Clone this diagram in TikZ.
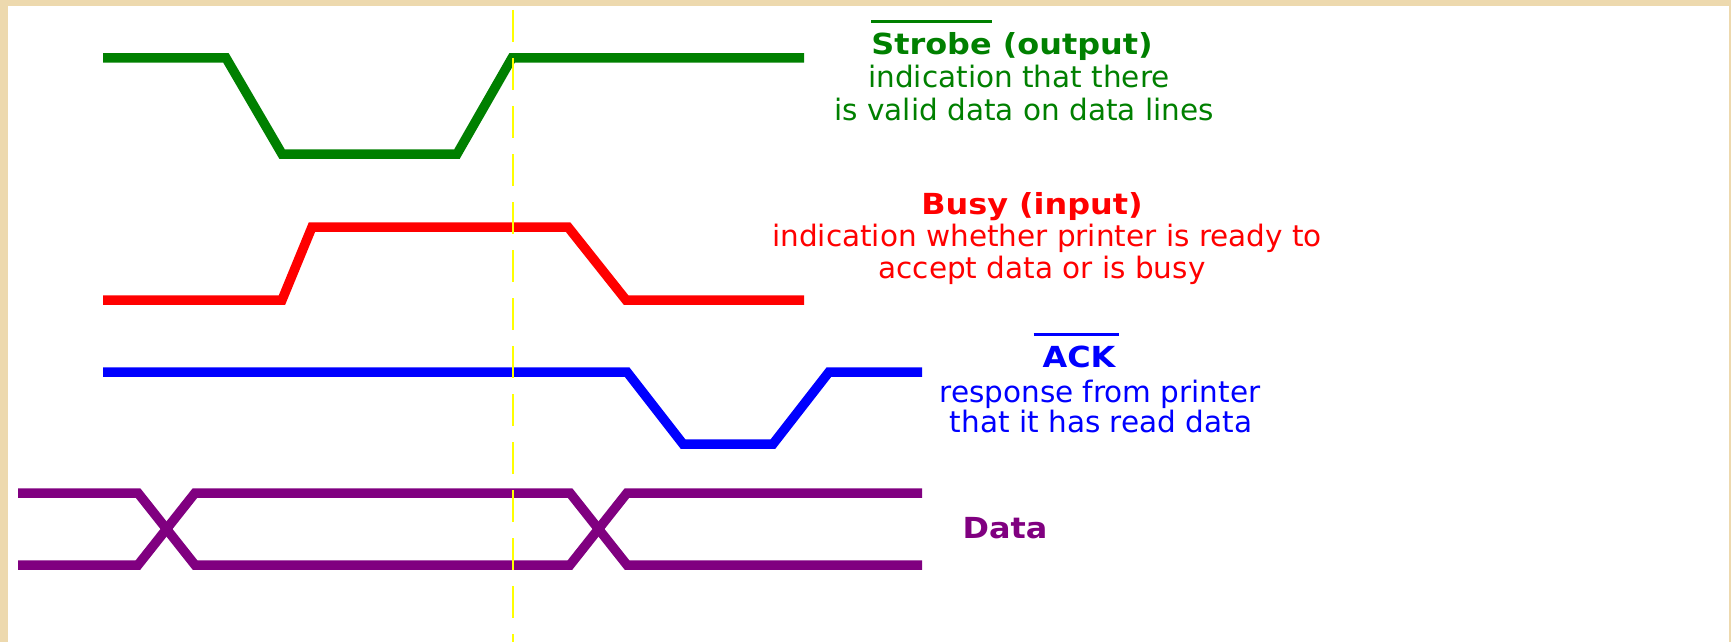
\documentclass[tikz,border=0pt]{standalone}
\usepackage{fontspec}
\newfontfamily\regfont{DejaVu Sans}
\newfontfamily\boldfont[FakeStretch=1.1]{DejaVu Sans}
\newcommand\ovbar[3][0pt]{\setbox0=\hbox{#3}\rlap{\kern-#1\raisebox{31.5pt}{\rule{\dimexpr\wd0+#1+#2\relax}{3pt}}}\box0\relax}
\definecolor{sgreen}{HTML}{008000}
\definecolor{sred}{HTML}{FF0000}
\definecolor{sblue}{HTML}{0000FF}
\definecolor{spurple}{HTML}{800080}
\definecolor{syellow}{HTML}{FFFF00}
\definecolor{beige}{HTML}{EDD9AE}
\begin{document}
\begin{tikzpicture}[x=1pt,y=-1pt,
  wave/.style={line width=9.5pt,line join=miter,line cap=butt},
  title/.style={anchor=base,inner sep=0pt,font=\boldfont\bfseries\fontsize{29}{32}\selectfont},
  desc/.style={anchor=base,inner sep=0pt,font=\regfont\fontsize{29.5}{32}\selectfont}]
\useasboundingbox (0,0) rectangle (1731,642);
\fill[beige] (0,0) rectangle (1731,642);
\fill[white] (8,6) rectangle (1729,642);
% signals
\draw[wave,sgreen] (103,58) -- (226,58) -- (282,154) -- (457,154) -- (512,58) -- (804,58);
\draw[wave,sred] (103,300) -- (282,300) -- (312,227) -- (568,227) -- (626,300) -- (804,300);
\draw[wave,sblue] (103,372) -- (627,372) -- (683,444) -- (773,444) -- (829,372) -- (922,372);
\draw[wave,spurple] (18,493) -- (138,493) -- (195,565) -- (570,565) -- (627,493) -- (922,493);
\draw[wave,spurple] (18,565) -- (138,565) -- (195,493) -- (570,493) -- (627,565) -- (922,565);
% yellow marker
\coordinate (ytop) at (513,10);
\coordinate (ybot) at (513,642);
\draw[syellow,line width=2.8pt,dash pattern=on 32pt off 16pt] (ytop) -- (ybot);
% labels
\node[title,text=sgreen] (strobeT) at (1012,55) {\ovbar{0pt}{Strobe} (output)};
\node[desc,text=sgreen] (strobe1) at (1019,88) {indication that there};
\node[desc,text=sgreen] (strobe2) at (1024,120) {is valid data on data lines};
\node[title,text=sred] (busyT) at (1032,214) {Busy (input)};
\node[desc,text=sred] (busy1) at (1047,246) {indication whether printer is ready to};
\node[desc,text=sred] (busy2) at (1042,278) {accept data or is busy};
\node[title,text=sblue] (ackT) at (1079,367) {\ovbar[9pt]{4pt}{ACK}};
\node[desc,text=sblue] (ack1) at (1100,402) {response from printer};
\node[desc,text=sblue] (ack2) at (1101,432) {that it has read data};
\node[title,text=spurple] (dataT) at (1005,538) {Data};
\end{tikzpicture}
\end{document}
